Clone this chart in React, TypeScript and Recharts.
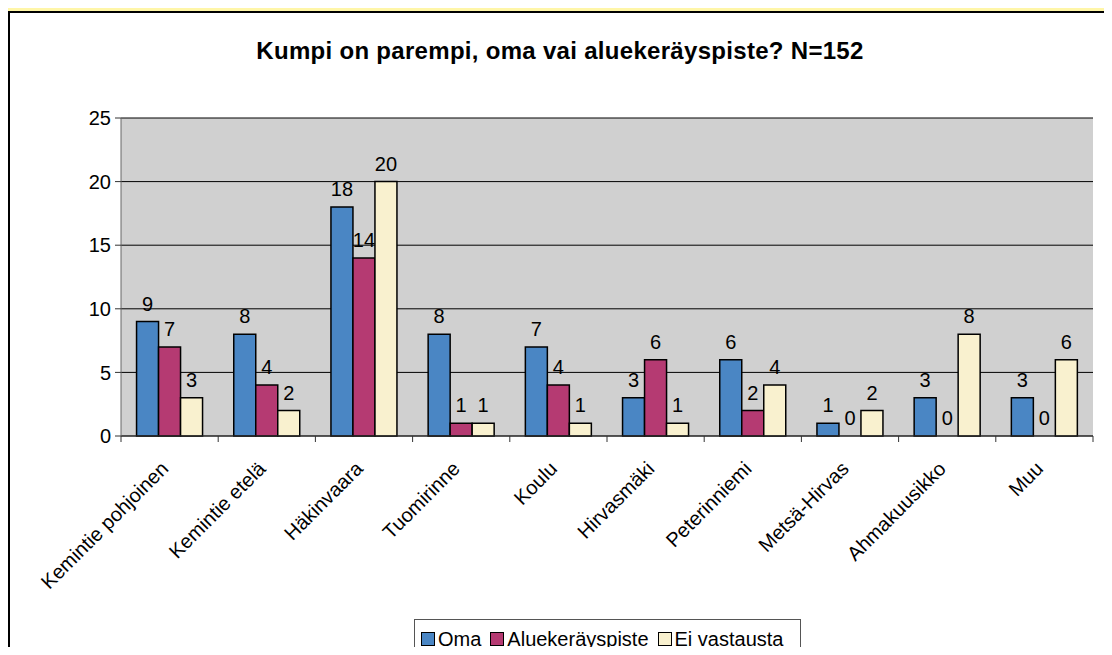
import { ComposedChart, Bar, Line, XAxis, YAxis, CartesianGrid, Legend, LabelList } from "recharts";

const places = [
  "Kemintie pohjoinen",
  "Kemintie etelä",
  "Häkinvaara",
  "Tuomirinne",
  "Koulu",
  "Hirvasmäki",
  "Peterinniemi",
  "Metsä-Hirvas",
  "Ahmakuusikko",
  "Muu",
];
const oma = [9, 8, 18, 8, 7, 3, 6, 1, 3, 3];
const alue = [7, 4, 14, 1, 4, 6, 2, 0, 0, 0];
const eiVastausta = [3, 2, 20, 1, 1, 1, 4, 2, 8, 6];
const yTicks = [0, 5, 10, 15, 20, 25];

const series = [
  { key: "oma", name: "Oma", color: "#4A86C4" },
  { key: "alue", name: "Aluekeräyspiste", color: "#B53A72" },
  { key: "ei", name: "Ei vastausta", color: "#F9F1CF" },
];

const data = places.map((name, i) => ({
  name,
  oma: oma[i],
  alue: alue[i],
  ei: eiVastausta[i],
}));

// label rotated -45deg, plus tick marks on the category boundaries
const PlaceTick = (props: any) => {
  const { x, y, payload, index } = props;
  const half = payload.offset || 0;
  const ty = y + 34;
  return (
    <g>
      <line x1={x - half} y1={y} x2={x - half} y2={y + 6} stroke="#333" />
      {index === places.length - 1 && (
        <line x1={x + half} y1={y} x2={x + half} y2={y + 6} stroke="#333" />
      )}
      <text
        x={x}
        y={ty}
        transform={`rotate(-45 ${x} ${ty})`}
        textAnchor="end"
        fontSize={20}
        fill="#000"
      >
        {payload.value}
      </text>
    </g>
  );
};

const ValueLabel = (props: any) => {
  const { x, y, width, height, value } = props;
  if (value === undefined || value === null) return null;
  const top = Math.min(Number(y), Number(y) + Number(height || 0));
  return (
    <text x={Number(x) + Number(width) / 2} y={top - 11} textAnchor="middle" fontSize={20} fill="#000">
      {value}
    </text>
  );
};

// zero-height bars get no label from the Bar, so the middle series' zeros
// are labelled from an invisible line that sits on the category centre
const ZeroLabel = (props: any) => {
  const { x, y, value } = props;
  if (value !== 0) return null;
  return (
    <text x={x} y={Number(y) - 11} textAnchor="middle" fontSize={20} fill="#000">
      0
    </text>
  );
};

const LegendBox = () => (
  <div
    style={{
      display: "flex",
      alignItems: "center",
      border: "1px solid #555",
      background: "#fff",
      height: 40,
      padding: "0 6px",
      fontSize: 20,
      boxSizing: "border-box",
    }}
  >
    {series.map((s) => (
      <span key={s.key} style={{ display: "flex", alignItems: "center", marginRight: 9 }}>
        <span
          style={{
            width: 12,
            height: 12,
            background: s.color,
            border: "1px solid #000",
            marginRight: 3,
            display: "inline-block",
          }}
        />
        {s.name}
      </span>
    ))}
  </div>
);

const App = () => {
  return (
    <div
      style={{
        position: "relative",
        margin: -8,
        width: 1112,
        height: 655,
        overflow: "hidden",
        background: "#FFF6A8",
        fontFamily: "'Liberation Sans', Arial, sans-serif",
      }}
    >
      <div
        style={{
          position: "absolute",
          left: 8,
          top: 11,
          width: 1100,
          height: 700,
          background: "#fff",
          borderTop: "2px solid #000",
          borderLeft: "2px solid #000",
          borderRight: "3px solid #000",
        }}
      />
      <div
        style={{
          position: "absolute",
          left: 0,
          top: 37,
          width: 1112,
          textAlign: "center",
          fontWeight: "bold",
          fontSize: 24,
          letterSpacing: 0.3,
          color: "#000",
          paddingLeft: 8,
          boxSizing: "border-box",
        }}
      >
        Kumpi on parempi, oma vai aluekeräyspiste? N=152
      </div>
      <div style={{ position: "absolute", left: 0, top: 0 }}>
        <ComposedChart
          width={1112}
          height={655}
          data={data}
          margin={{ top: 118, right: 19, left: 71, bottom: 0 }}
          barCategoryGap="16%"
          barGap={0}
        >
          <CartesianGrid horizontal vertical={false} stroke="#000" fill="#D0D0D0" />
          <XAxis
            dataKey="name"
            interval={0}
            tickSize={0}
            tickMargin={0}
            tickLine={false}
            tick={<PlaceTick />}
            height={219}
            axisLine={{ stroke: "#333" }}
          />
          <XAxis
            xAxisId="top"
            orientation="top"
            type="number"
            domain={[0, 1]}
            allowDataOverflow
            tick={false}
            tickLine={false}
            height={0}
            axisLine={{ stroke: "#808080", strokeWidth: 2 }}
          />
          <YAxis
            domain={[0, 25]}
            ticks={yTicks}
            interval={0}
            width={50}
            tickSize={6}
            tickMargin={4}
            tick={{ fontSize: 20, fill: "#000" }}
            tickLine={{ stroke: "#333" }}
            axisLine={{ stroke: "#666" }}
          />
          <YAxis
            yAxisId="r"
            orientation="right"
            domain={[0, 1]}
            tick={false}
            tickLine={false}
            width={0}
            axisLine={{ stroke: "#808080", strokeWidth: 2 }}
          />
          <Legend
            layout="horizontal"
            verticalAlign="middle"
            align="center"
            content={<LegendBox />}
            wrapperStyle={{ left: 414, top: 619, width: 387 }}
          />
          {series.map((s) => (
            <Bar
              key={s.key}
              dataKey={s.key}
              name={s.name}
              fill={s.color}
              stroke="#000"
              strokeWidth={1.5}
              isAnimationActive={false}
            >
              <LabelList dataKey={s.key} content={ValueLabel} />
            </Bar>
          ))}
          <Line
            dataKey="alue"
            stroke="none"
            dot={false}
            activeDot={false}
            legendType="none"
            isAnimationActive={false}
          >
            <LabelList dataKey="alue" content={ZeroLabel} />
          </Line>
        </ComposedChart>
      </div>
    </div>
  );
};

export default App;
